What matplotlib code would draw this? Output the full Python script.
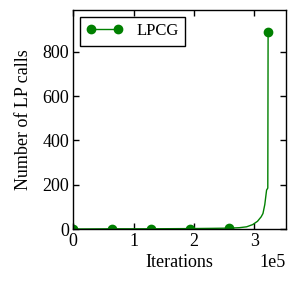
import numpy as np
import matplotlib.pyplot as plt

# LPCG: iterations vs cumulative number of LP calls
iters = [0, 64500, 129000, 193500, 230000, 258000, 275000, 287000, 297000,
         305000, 311000, 314000, 317000, 320000, 322000, 322500]
calls = [0, 1, 1, 2, 3, 4, 6, 10, 20, 35, 55, 70, 110, 176, 185, 891]
marked = [0, 1, 2, 3, 5, 15]
xticks = [0, 100000, 200000, 300000]
yticks = [0, 200, 400, 600, 800]

plt.rcParams['font.family'] = 'Liberation Serif'
plt.rcParams['font.size'] = 13
plt.rcParams['mathtext.fontset'] = 'stix'

fig = plt.figure(figsize=(2.96, 2.91), dpi=100)
ax = fig.add_axes([0.247, 0.213, 0.719, 0.753])

ax.plot(iters, calls, color='green', lw=1.0, marker='o', ms=6,
        markevery=marked, label='LPCG')

ax.set_xlim(0, 352000)
ax.set_ylim(0, 990)
ax.set_xticks(xticks)
ax.set_yticks(yticks)
ax.ticklabel_format(axis='x', style='sci', scilimits=(0, 0))
ax.tick_params(direction='in', top=True, right=True, length=4, width=1,
               pad=3)
for s in ax.spines.values():
    s.set_linewidth(1.0)

ax.set_xlabel('Iterations', labelpad=3)
ax.set_ylabel('Number of LP calls', labelpad=7)
ax.xaxis.get_offset_text().set_position((1, -0.06))

leg = ax.legend(loc='upper left', numpoints=2, fancybox=False,
                framealpha=1, edgecolor='black', handlelength=2.2,
                borderaxespad=0.4, fontsize=12)
leg.get_frame().set_linewidth(1.0)

fig.savefig('out.png', dpi=100)
